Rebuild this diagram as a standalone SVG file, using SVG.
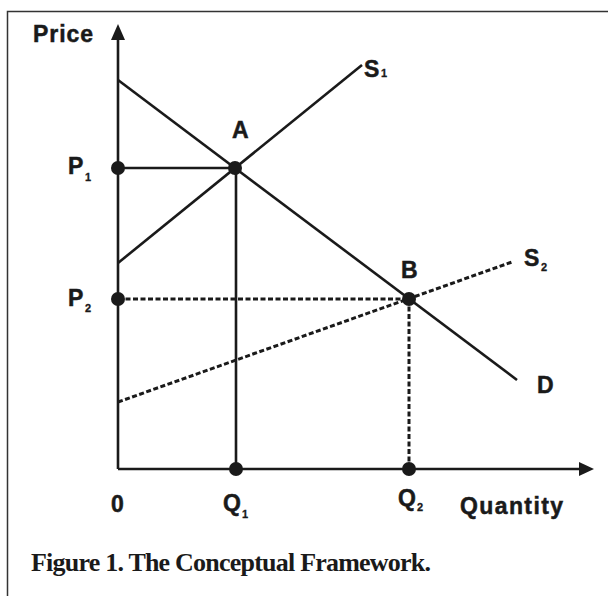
<svg xmlns="http://www.w3.org/2000/svg" width="608" height="596" viewBox="0 0 608 596">
<defs>
<style>
.lbl{font-family:"Liberation Sans",Arial,sans-serif;font-weight:bold;font-size:23px;fill:#1a1a1a;stroke:#1a1a1a;stroke-width:0.5}
.sub{font-family:"Liberation Sans",Arial,sans-serif;font-weight:bold;font-size:11px;fill:#1a1a1a;stroke:#1a1a1a;stroke-width:0.3}
.ln{stroke:#1a1a1a;stroke-width:2.6;fill:none}
.dash{stroke:#1a1a1a;stroke-width:3;stroke-dasharray:5 2.5;fill:none}
.dot{fill:#1a1a1a}
.cap{font-family:"Liberation Serif","Times New Roman",serif;font-weight:bold;font-size:26px;fill:#1a1a1a}
</style>
</defs>
<rect width="608" height="596" fill="#fff"/>
<path d="M7.5,596 V11.5 H608" fill="none" stroke="#333" stroke-width="1.5"/>
<g id="axes">
<line class="ln" x1="118" y1="469" x2="118" y2="36"/>
<polygon points="118,24 111,40 125,40" fill="#1a1a1a"/>
<line class="ln" x1="118" y1="469" x2="582" y2="469"/>
<polygon points="594,469 579,462 579,476" fill="#1a1a1a"/>
<text class="lbl" x="33" y="42" textLength="60">Price</text>
<text class="lbl" x="460" y="514" textLength="103">Quantity</text>
<text class="lbl" x="111" y="512">0</text>
</g>
<g id="connectors">
<line id="D" class="ln" x1="118" y1="80" x2="517" y2="380"/>
<line id="S1" class="ln" x1="118" y1="263" x2="362" y2="65"/>
<line id="S2" class="dash" x1="118" y1="402" x2="512" y2="262"/>
<line class="ln" x1="118" y1="168" x2="235" y2="168"/>
<line class="ln" x1="236" y1="168" x2="236" y2="469"/>
<line class="dash" x1="118" y1="299" x2="409" y2="299"/>
<line class="dash" x1="409" y1="299" x2="409" y2="469" stroke-width="2"/>
</g>
<g id="A"><circle class="dot" cx="235" cy="168" r="7"/><text class="lbl" x="232" y="138">A</text></g>
<g id="B"><circle class="dot" cx="409" cy="299" r="7"/><text class="lbl" x="401" y="278">B</text></g>
<g id="P1"><circle class="dot" cx="118" cy="168" r="7"/><text class="lbl" x="68" y="174">P</text><text class="sub" x="85" y="181">1</text></g>
<g id="P2"><circle class="dot" cx="118" cy="299" r="7"/><text class="lbl" x="68" y="306">P</text><text class="sub" x="85" y="312">2</text></g>
<g id="Q1"><circle class="dot" cx="236" cy="469" r="7"/><text class="lbl" x="223" y="511">Q</text><text class="sub" x="242" y="518">1</text></g>
<g id="Q2"><circle class="dot" cx="409" cy="469" r="7"/><text class="lbl" x="398" y="506">Q</text><text class="sub" x="417" y="511">2</text></g>
<g id="S1lbl"><text class="lbl" x="364" y="77">S</text><text class="sub" x="381" y="77">1</text></g>
<g id="S2lbl"><text class="lbl" x="524" y="266">S</text><text class="sub" x="541" y="271">2</text></g>
<g id="Dlbl"><text class="lbl" x="537" y="393">D</text></g>
<text class="cap" x="31" y="571" textLength="400">Figure 1. The Conceptual Framework.</text>
</svg>
